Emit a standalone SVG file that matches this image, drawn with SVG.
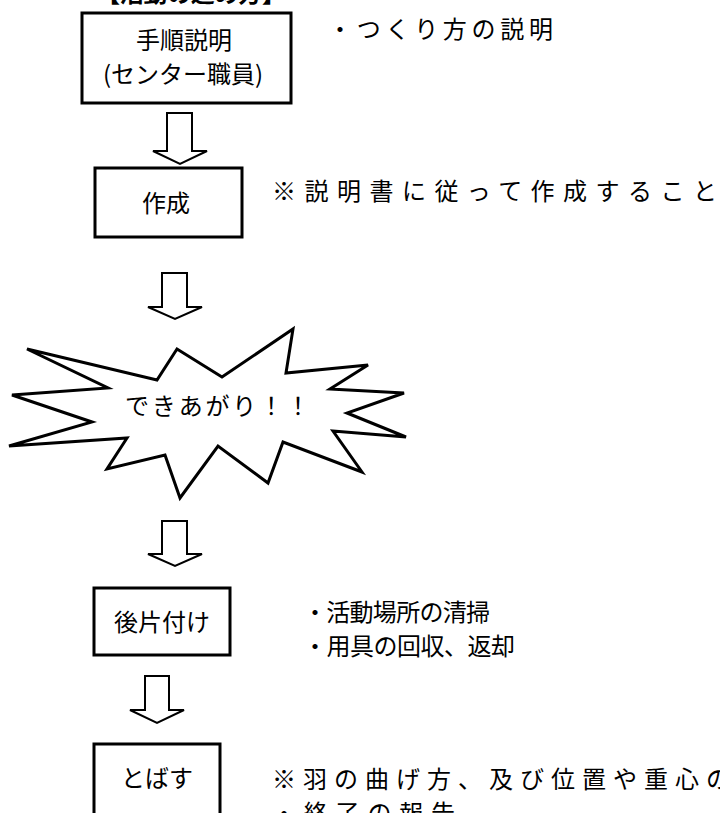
<svg xmlns="http://www.w3.org/2000/svg" width="720" height="813" viewBox="0 0 720 813">
<style>
.box{fill:#fff;stroke:#000;stroke-width:3}
.arr{fill:#fff;stroke:#000;stroke-width:2;stroke-linejoin:miter}
.t{font-family:"Noto Sans CJK JP","Noto Sans",sans-serif;fill:#000;font-size:24px}
.c{text-anchor:middle}
.burst{fill:#fff;stroke:#000;stroke-width:3;stroke-linejoin:miter}
</style>
<rect width="720" height="813" fill="#fff"/>
<text id="title" class="t" x="96" y="2" font-size="24" font-weight="bold" textLength="190" lengthAdjust="spacing">【活動の進め方】</text>

<g id="connectors">
<path class="arr" d="M167,113 H192 V151 H207 L180,164 L153,151 H167 Z"/>
<path class="arr" d="M162,273 H187 V307 H202 L175,319 L148,307 H162 Z"/>
<path class="arr" d="M162,521 H187 V554 H202 L175,566 L148,554 H162 Z"/>
<path class="arr" d="M145,676 H169 V710 H184 L157,723 L130,710 H145 Z"/>
</g>

<g id="n1">
<rect class="box" x="82" y="13" width="209" height="90"/>
<text class="t c" x="184" y="49" font-size="25">手順説明</text>
<text class="t c" x="183" y="83" font-size="17">(センター職員)</text>
</g>
<text class="t" x="328" y="38" font-size="25" textLength="225" lengthAdjust="spacing">・つくり方の説明</text>

<g id="n2">
<rect class="box" x="95" y="168" width="147" height="69"/>
<text class="t c" x="166" y="212" font-size="27">作成</text>
</g>
<text class="t" x="272" y="200" font-size="28" textLength="445" lengthAdjust="spacing">※説明書に従って作成すること</text>

<g id="n3">
<path class="burst" d="M27,349 L157,380 L177,349 L222,377 L293,329 L286,373 L368,365 L330,389 L404,393 L347,413 L406,437 L333,431 L362,472 L283,442 L268,483 L218,446 L180,498 L165,455 L107,469 L127,438 L9,446 L92,422 L12,395 L108,388 Z"/>
<text class="t" x="125" y="415" font-size="26" textLength="185" lengthAdjust="spacing">できあがり！！</text>
</g>

<g id="n4">
<rect class="box" x="94" y="588" width="136" height="67"/>
<text class="t c" x="162" y="631" font-size="25">後片付け</text>
</g>
<text class="t" x="303" y="621" font-size="24" textLength="187" lengthAdjust="spacing">・活動場所の清掃</text>
<text class="t" x="303" y="655" font-size="24" textLength="212" lengthAdjust="spacing">・用具の回収、返却</text>

<g id="n5">
<rect class="box" x="94" y="744" width="126" height="80"/>
<text class="t c" x="157" y="787" font-size="25">とばす</text>
</g>
<text class="t" x="272" y="788" font-size="28" textLength="458" lengthAdjust="spacing">※羽の曲げ方、及び位置や重心の</text>
<text class="t" x="272" y="822" font-size="28" textLength="183" lengthAdjust="spacing">・終了の報告</text>
</svg>
